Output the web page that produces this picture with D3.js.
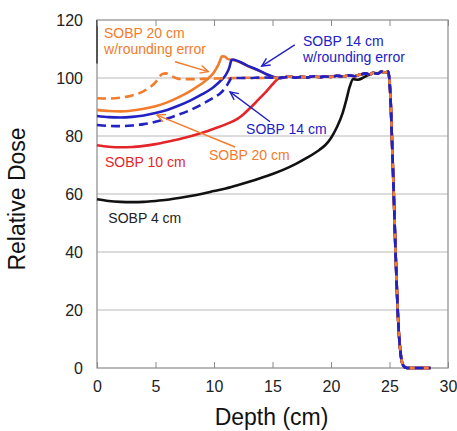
<!DOCTYPE html>
<html><head><meta charset="utf-8">
<script src="https://cdn.jsdelivr.net/npm/d3@7"></script>
<style>body{margin:0;background:#fff;}svg{display:block;font-family:"Liberation Sans",Arial,sans-serif;}</style>
</head><body>
<svg id="chart" width="457" height="431"></svg>
<script>
// ---- data ----
const xTicks = [0, 5, 10, 15, 20, 25, 30];
const yTicks = [0, 20, 40, 60, 80, 100, 120];

// shared plateau + distal fall-off (all SOBPs share the same distal region)
const plateauDepth = [16,16.5,17,17.5,18,18.5,19,19.5,20,20.5,21,21.5,22,22.5,23,23.3,23.6,24,24.3,24.6,24.9];
const plateauDose  = [100.2,100.5,100.1,100.4,100.2,100.6,100.3,100.5,100.4,100.8,100.5,100.9,100.6,101.2,101.6,101.1,101.8,101.5,102.2,101.8,102.2];
const distalDepth = [25.0,25.1,25.2,25.35,25.5,25.65,25.8,25.95,26.1,26.3,26.5,28.5];
const distalDose  = [99,92,80,62,42,25,12,5,1.5,0.3,0,0];

const sobp4Depth = [0,1,2,3,4,5,6,7,8,9,10,11,12,13,14,15,16,17,18,19,19.5,20,20.5,21,21.3,21.6,21.9,22.3,22.8,23.2];
const sobp4Dose  = [58.2,57.6,57.3,57.2,57.3,57.6,58,58.6,59.3,60.1,61,61.9,63,64.2,65.5,66.9,68.5,70.4,72.6,75.2,76.8,79.3,83,88,92.3,97,99.6,99.4,100.2,101];

const sobp10Depth = [0,1,2,3,4,5,6,7,8,9,10,11,12,12.5,13,13.5,14,14.5,15,15.3,15.6];
const sobp10Dose  = [76.8,76.3,76.1,76.2,76.6,77.2,78,78.9,79.9,81.1,82.5,84,85.9,87.4,89.3,91.3,93.4,95.5,97.8,99.1,100];

const sobp14rDepth = [0,1,2,3,4,5,6,7,8,9,10,10.5,11,11.3,11.5,11.6,12,12.5,13,13.5,14,14.5,15,15.5];
const sobp14rDose  = [86.9,86.5,86.4,86.6,87.1,87.9,89,90.5,92.3,94.4,97,98.8,101,103.5,106.2,106.4,105.9,105,104,103.2,102.3,101.3,100.5,100];

const sobp20rDepth = [0,1,2,3,4,5,6,7,8,9,9.5,10,10.4,10.7,10.9,11.2,11.6,12,12.5,13,13.5,14,14.5,15,15.5];
const sobp20rDose  = [89,88.6,88.5,88.8,89.4,90.3,91.6,93.4,95.6,98.2,99.8,102,104.8,107.5,107.4,106.5,106.2,105.8,104.9,103.9,103.1,102.2,101.2,100.4,100];

const sobp14Depth = [0,1,2,3,4,5,6,7,8,9,10,10.5,11,11.3,11.5,12,13,14,15,15.5];
const sobp14Dose  = [83.8,83.5,83.4,83.6,84.1,84.9,86,87.4,89,91,93.3,94.6,96.8,98.8,100,100,100,100.2,100.1,100];

const sobp20Depth = [0,1,2,3,4,4.5,5,5.3,5.6,5.9,6.3,7,8,9,10,11,12,13,14,15,15.5];
const sobp20Dose  = [93,92.9,93.2,94,95.5,96.8,98.5,100.3,101.4,101.6,100.8,99.7,99.6,99.7,99.8,99.9,100,100.1,100,100.1,100];

// ---- layout ----
const svg = d3.select("#chart");
const x = d3.scaleLinear().domain([0, 30]).range([97, 448]);
const y = d3.scaleLinear().domain([0, 120]).range([368, 20]);

const C = {orange:"#f27b2c", blue:"#2121c4", red:"#e3262a", black:"#111111", frame:"#8a8a8a", grid:"#b8b8b8"};

// gridlines
svg.append("g").selectAll("line").data(yTicks.filter(t => t > 0 && t < 120)).join("line")
  .attr("x1", x(0)).attr("x2", x(30)).attr("y1", d => y(d)).attr("y2", d => y(d))
  .attr("stroke", C.grid).attr("stroke-width", 1);

// frame
svg.append("rect").attr("x", x(0)).attr("y", y(120)).attr("width", x(30) - x(0)).attr("height", y(0) - y(120))
  .attr("fill", "none").attr("stroke", C.frame).attr("stroke-width", 1.2);
svg.append("line").attr("x1", x(0)).attr("x2", x(0)).attr("y1", y(120)).attr("y2", y(105))
  .attr("stroke", "#555").attr("stroke-width", 2);

// axes (ticks inward)
const gBottom = svg.append("g").attr("transform", `translate(0,${y(0)})`)
  .call(d3.axisBottom(x).tickValues(xTicks).tickSize(-6).tickPadding(13).tickFormat(d3.format("d")));
const gTop = svg.append("g").attr("transform", `translate(0,${y(120)})`)
  .call(d3.axisTop(x).tickValues(xTicks).tickSize(-6).tickFormat(""));
const gLeft = svg.append("g").attr("transform", `translate(${x(0)},0)`)
  .call(d3.axisLeft(y).tickValues(yTicks).tickSize(0).tickPadding(14).tickFormat(d3.format("d")));
[gBottom, gTop, gLeft].forEach(g => {
  g.select(".domain").remove();
  g.selectAll(".tick line").attr("stroke", C.frame);
  g.selectAll("text").attr("fill", "#222").style("font-size", "16px").style("font-family", '"Liberation Sans",Arial,sans-serif');
});

// axis titles
svg.append("text").attr("x", (x(0) + x(30)) / 2 - 1).attr("y", 425).attr("text-anchor", "middle")
  .style("font-size", "23px").attr("fill", "#111").text("Depth (cm)");
svg.append("text").attr("transform", "translate(25,199) rotate(-90)").attr("text-anchor", "middle")
  .style("font-size", "23px").attr("fill", "#111").text("Relative Dose");

// curves
const line = d3.line().x(d => x(d[0])).y(d => y(d[1])).curve(d3.curveMonotoneX);
function build(depth, dose) {
  const last = depth[depth.length - 1];
  let pts = d3.zip(depth, dose);
  plateauDepth.forEach((t, i) => { if (t > last) pts.push([t, plateauDose[i]]); });
  return pts.concat(d3.zip(distalDepth, distalDose));
}
const curves = [
  {pts: build(sobp4Depth, sobp4Dose), color: C.black, dash: null},
  {pts: build(sobp10Depth, sobp10Dose), color: C.red, dash: null},
  {pts: build(sobp20rDepth, sobp20rDose), color: C.orange, dash: null},
  {pts: build(sobp14rDepth, sobp14rDose), color: C.blue, dash: null},
  {pts: build(sobp20Depth, sobp20Dose), color: C.orange, dash: "9,5"},
  {pts: build(sobp14Depth, sobp14Dose), color: C.blue, dash: "9,5"}
];
svg.append("g").selectAll("path").data(curves).join("path")
  .attr("d", d => line(d.pts)).attr("fill", "none")
  .attr("stroke", d => d.color).attr("stroke-width", 2.6)
  .attr("stroke-dasharray", d => d.dash).attr("stroke-linejoin", "round");

// annotations (data coordinates)
const labels = [
  {lines: ["SOBP 20 cm", "w/rounding error"], d: 0.6, v: 113.7, color: C.orange},
  {lines: ["SOBP 14 cm", "w/rounding error"], d: 17.6, v: 111, color: C.blue},
  {lines: ["SOBP 14 cm"], d: 12.74, v: 80.7, color: C.blue},
  {lines: ["SOBP 20 cm"], d: 9.57, v: 71.7, color: C.orange},
  {lines: ["SOBP 10 cm"], d: 0.68, v: 69.2, color: C.red},
  {lines: ["SOBP 4 cm"], d: 0.97, v: 49.9, color: "#222"}
];
labels.forEach(l => {
  const t = svg.append("text").attr("x", x(l.d)).attr("y", y(l.v)).attr("fill", l.color).style("font-size", "14px");
  l.lines.forEach((s, i) => t.append("tspan").attr("x", x(l.d)).attr("dy", i ? 16 : 0).text(s));
});
const arrows = [
  {d0: 6.67, v0: 105.6, d1: 9.51, v1: 102.2, color: C.orange},
  {d0: 16.9, v0: 111.4, d1: 14.08, v1: 104.1, color: C.blue},
  {d0: 14.79, v0: 84.9, d1: 11.37, v1: 95.2, color: C.blue},
  {d0: 11.8, v0: 76.2, d1: 5.13, v1: 87.2, color: C.orange}
];
arrows.forEach(a => {
  const x0 = x(a.d0), y0 = y(a.v0), x1 = x(a.d1), y1 = y(a.v1);
  const ang = Math.atan2(y1 - y0, x1 - x0), L = 9, w = 0.45;
  svg.append("line").attr("x1", x0).attr("y1", y0).attr("x2", x1).attr("y2", y1)
    .attr("stroke", a.color).attr("stroke-width", 1.4);
  svg.append("path").attr("d", `M${x1 - L * Math.cos(ang - w)},${y1 - L * Math.sin(ang - w)}L${x1},${y1}L${x1 - L * Math.cos(ang + w)},${y1 - L * Math.sin(ang + w)}`)
    .attr("fill", "none").attr("stroke", a.color).attr("stroke-width", 1.4);
});
</script>
</body></html>
